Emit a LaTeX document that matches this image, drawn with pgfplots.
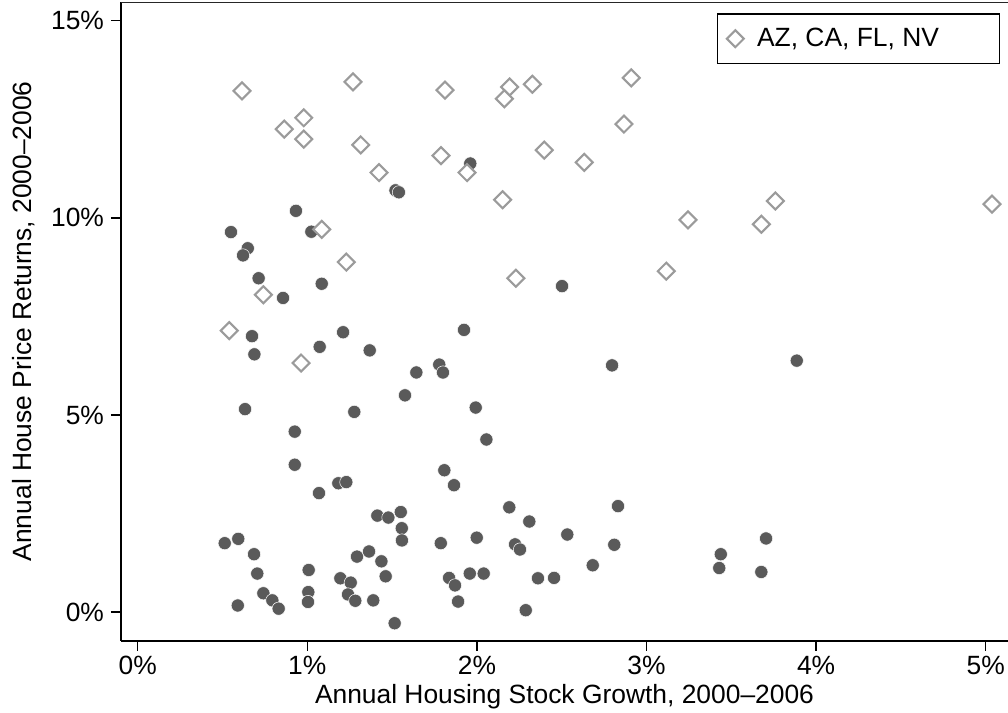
\documentclass[border=0pt]{standalone}
\usepackage{fontspec}
\setmainfont{Liberation Sans}
\usepackage{pgfplots}
\pgfplotsset{compat=1.18}
\definecolor{dotc}{RGB}{90,90,90}
\definecolor{diac}{RGB}{155,155,155}
\newcommand{\chartfont}{\fontsize{13.2}{15.8}\selectfont}
\begin{document}
\begin{tikzpicture}[font=\chartfont]
\begin{axis}[
  at={(0pt,0pt)}, anchor=south west,
  scale only axis, width=443.5pt, height=319.35pt,
  xmin=-0.0985, xmax=5.1315, ymin=-0.723, ymax=15.476,
  axis x line*=bottom, axis y line*=left,
  axis line style={-, line width=1pt, black},
  xtick={0,1,2,3,4,5}, xticklabels={0\%,1\%,2\%,3\%,4\%,5\%},
  ytick={0,5,10,15}, yticklabels={0\%,5\%,10\%,15\%},
  tick align=outside, major tick length=5pt,
  every tick/.style={black, line width=0.7pt},
  tick label style={font=\chartfont},
  xticklabel style={yshift=1pt},
  label style={font=\chartfont},
  xlabel={Annual Housing Stock Growth, 2000–2006},
  ylabel={Annual House Price Returns, 2000–2006},
  xlabel style={at={(axis description cs:0.5,0)}, anchor=base, yshift=-31.4pt},
  ylabel style={at={(axis description cs:-0.10068,0.5)}, anchor=base},
  legend cell align=left,
  legend style={at={(rel axis cs:1,1)}, anchor=north east, xshift=-4pt, yshift=-5.65pt,
    draw=black, line width=0.65pt, inner sep=0pt, column sep=0pt, row sep=0pt,
    nodes={inner sep=0pt, draw=none}, font=\chartfont},
  legend image code/.code={\path[draw=none, fill=none] (-8.85pt,-12.35pt) rectangle (10.85pt,12.35pt);
    \draw[#1] plot coordinates {(0pt,0pt)};},
]
\addplot[forget plot, only marks, mark=*, mark size=3.3pt,
  mark options={fill=dotc, draw=white, line width=0.25pt}] coordinates {
(1.52,10.70) (1.54,10.65) (0.933,10.18) (0.550,9.64) (1.024,9.65)
(0.649,9.23) (0.621,9.05) (0.713,8.47) (1.085,8.33) (0.857,7.97)
(1.211,7.10) (0.674,7.00) (0.688,6.54) (1.073,6.73) (1.368,6.64)
(1.643,6.08) (1.576,5.50) (0.633,5.15) (1.277,5.08) (0.926,4.58)
(0.926,3.74) (1.183,3.27) (1.230,3.30) (1.069,3.02) (1.413,2.45)
(1.478,2.40) (1.551,2.54) (1.557,2.13) (1.558,1.82) (0.513,1.75)
(0.593,1.86) (0.686,1.47) (0.705,0.98) (0.741,0.48) (0.794,0.30)
(0.831,0.09) (0.590,0.17) (1.008,1.07) (1.006,0.51) (1.004,0.26)
(1.293,1.41) (1.364,1.54) (1.437,1.29) (1.462,0.91) (1.195,0.86)
(1.256,0.75) (1.240,0.45) (1.283,0.29) (1.389,0.30) (1.515,-0.28)
(1.961,11.38) (2.502,8.27) (1.924,7.16) (1.778,6.28) (1.800,6.08)
(2.797,6.26) (1.993,5.19) (2.056,4.38) (1.808,3.60) (1.865,3.22)
(2.191,2.66) (2.309,2.30) (2.832,2.69) (2.533,1.97) (1.787,1.75)
(1.999,1.89) (2.225,1.72) (2.254,1.59) (2.810,1.71) (2.683,1.19)
(1.836,0.87) (1.871,0.68) (1.958,0.98) (2.040,0.98) (2.360,0.86)
(2.455,0.87) (1.889,0.27) (2.288,0.05) (3.886,6.38) (3.705,1.87)
(3.438,1.47) (3.429,1.12) (3.677,1.02)
};
\addplot[only marks, mark=square*, mark size=3.0pt,
  mark options={rotate=45, draw=diac, fill=white, line width=1.05pt}] coordinates {
(0.615,13.22) (1.269,13.45) (0.979,12.54) (0.864,12.25) (0.979,12.00)
(1.315,11.85) (1.423,11.15) (1.085,9.71) (1.230,8.88) (0.741,8.05)
(0.540,7.14) (0.963,6.32) (1.812,13.24) (2.193,13.32) (2.162,13.02)
(2.327,13.39) (2.910,13.55) (2.867,12.38) (1.788,11.58) (1.942,11.15)
(2.397,11.72) (2.633,11.41) (2.152,10.46) (3.245,9.95) (2.230,8.47)
(3.117,8.65) (3.760,10.43) (3.677,9.84) (5.037,10.35)
};
\addlegendentry{\makebox[121.15pt][l]{AZ, CA, FL, NV}}
\draw[line width=1pt, black!85] (rel axis cs:0,1) -- (rel axis cs:1,1);
\end{axis}
\pgfresetboundingbox
\path[use as bounding box] (-60.5pt,-36.15pt) rectangle (443.5pt,320.35pt);
\end{tikzpicture}
\end{document}
